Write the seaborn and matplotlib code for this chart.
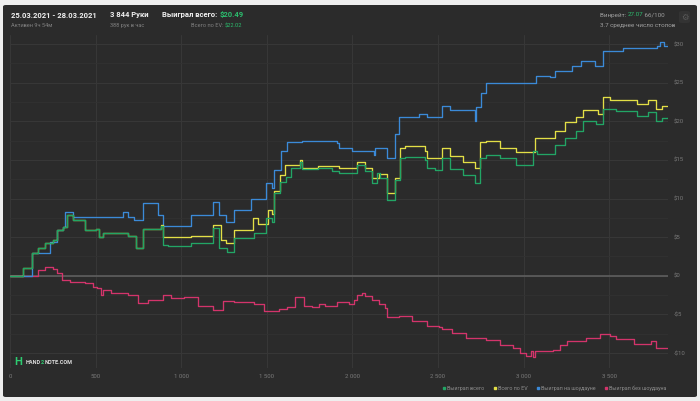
import matplotlib
matplotlib.use("Agg")
import matplotlib.pyplot as plt
import seaborn as sns
import pandas as pd
from matplotlib.lines import Line2D
from matplotlib.patches import FancyBboxPatch

# --- data (hands, dollars) ---
green_hands = [0, 76, 129, 165, 206, 253, 276, 311, 335, 370, 441, 500, 520, 546, 687, 734, 776,
               881, 893, 922, 1058, 1187, 1222, 1270, 1310, 1428, 1498, 1528, 1545, 1575, 1610,
               1640, 1692, 1704, 1800, 1880, 1921, 2027, 2074, 2115, 2145, 2162, 2203, 2250,
               2280, 2309, 2427, 2438, 2485, 2526, 2568, 2644, 2714, 2744, 2779, 2860, 2955,
               3055, 3080, 3184, 3243, 3308, 3349, 3425, 3467, 3540, 3660, 3730, 3772, 3810, 3844]
green_vals = [0, 1.0, 3.0, 3.6, 4.2, 4.6, 5.9, 6.3, 7.9, 7.2, 5.9, 6.0, 5.0, 5.6, 5.2, 3.6, 6.0,
              6.5, 4.0, 3.8, 4.2, 6.2, 3.6, 3.1, 4.9, 5.5, 7.5, 7.0, 10.7, 12.1, 12.8,
              13.9, 14.7, 13.8, 14.0, 13.5, 13.3, 14.3, 13.6, 12.0, 13.3, 12.6, 9.8, 12.4,
              15.2, 15.4, 15.0, 14.0, 13.7, 15.2, 13.8, 13.0, 12.0, 15.2, 15.6, 15.3, 14.4,
              16.2, 15.7, 16.9, 17.9, 18.8, 20.1, 19.7, 21.6, 21.3, 20.7, 21.2, 20.1, 20.4, 20.49]

ev_hands = [0, 76, 129, 165, 206, 253, 276, 311, 335, 370, 441, 500, 520, 546, 687, 734, 776,
            881, 893, 1058, 1187, 1234, 1263, 1310, 1422, 1451, 1510, 1528, 1545, 1575, 1604,
            1692, 1704, 1800, 1921, 2027, 2074, 2115, 2156, 2203, 2250, 2280, 2309, 2427,
            2438, 2526, 2573, 2644, 2714, 2744, 2779, 2861, 2955, 3067, 3184, 3243, 3308,
            3349, 3437, 3467, 3508, 3660, 3730, 3772, 3810, 3844]
ev_vals = [0, 1.0, 3.0, 3.6, 4.2, 4.6, 5.9, 6.3, 7.9, 7.2, 5.9, 6.0, 5.0, 5.6, 5.2, 3.6, 6.0,
           6.6, 5.0, 5.2, 6.6, 4.6, 4.3, 5.9, 7.5, 6.7, 8.5, 8.0, 11.0, 13.0, 14.3,
           15.0, 14.0, 14.2, 14.0, 14.7, 14.0, 12.6, 13.2, 10.7, 12.6, 16.5, 16.8, 16.2,
           15.3, 16.5, 15.5, 14.7, 13.9, 17.3, 17.5, 16.5, 16.0, 17.8, 18.8, 19.9, 20.5,
           21.4, 21.0, 23.1, 22.7, 22.3, 22.8, 21.6, 22.0, 22.02]

sd_hands = [0, 129, 235, 276, 311, 320, 370, 660, 690, 723, 776, 864, 893, 1058, 1187, 1222,
            1263, 1310, 1410, 1498, 1528, 1545, 1586, 1616, 1704, 1910, 1921, 1998, 2127,
            2133, 2203, 2250, 2274, 2391, 2438, 2526, 2568, 2714, 2720, 2750, 2779, 3073,
            3155, 3184, 3284, 3337, 3420, 3467, 3584, 3778, 3800, 3820, 3844]
sd_vals = [0, 3.0, 4.4, 5.9, 6.3, 8.3, 7.6, 8.2, 7.6, 7.2, 9.4, 7.9, 6.4, 7.9, 9.5, 7.9,
           7.0, 8.5, 10.0, 12.0, 11.4, 13.7, 16.2, 17.3, 17.5, 17.2, 16.6, 16.2, 15.6,
           16.5, 15.2, 18.4, 20.5, 21.0, 20.5, 22.0, 21.4, 20.1, 21.8, 23.6, 24.9, 25.9,
           25.7, 26.5, 27.2, 27.8, 27.2, 29.1, 29.5, 29.8, 30.2, 29.7, 29.8]

nsd_hands = [0, 129, 165, 206, 253, 276, 306, 352, 441, 482, 511, 529, 546, 588, 687, 746,
             805, 893, 940, 1016, 1099, 1187, 1246, 1310, 1428, 1481, 1569, 1616, 1663, 1716,
             1763, 1804, 1839, 1910, 1980, 2009, 2027, 2056, 2074, 2115, 2156, 2192, 2203,
             2274, 2350, 2438, 2509, 2526, 2585, 2662, 2779, 2861, 2938, 2979, 3014, 3044,
             3055, 3067, 3173, 3214, 3255, 3367, 3449, 3508, 3543, 3643, 3743, 3772, 3844]
nsd_vals = [0, 0.0, 0.8, 1.1, 0.9, 0.4, -0.5, -0.8, -1.0, -1.4, -1.6, -2.5, -1.9, -2.2, -2.5, -3.5,
            -3.2, -2.5, -2.9, -2.8, -3.9, -4.4, -3.3, -3.4, -3.6, -4.5, -4.3, -4.0, -2.8, -3.9,
            -4.0, -3.6, -3.9, -3.4, -3.6, -3.2, -2.5, -2.2, -2.6, -3.1, -3.7, -4.2, -5.4,
            -5.2, -5.9, -6.5, -6.6, -6.9, -7.4, -8.1, -8.3, -9.0, -9.3, -10.0, -10.4, -9.8,
            -10.5, -9.8, -9.6, -9.0, -8.5, -8.0, -7.5, -7.8, -8.2, -8.8, -8.4, -9.3, -9.3]

series_names = ["Выиграл всего", "Всего по EV", "Выиграл на шоудауне", "Выиграл без шоудауна"]
series_colors = ["#22a565", "#e3df46", "#3b8ad8", "#d3346b"]

x_ticks = [0, 500, 1000, 1500, 2000, 2500, 3000, 3500]
x_tick_labels = ["0", "500", "1 000", "1 500", "2 000", "2 500", "3 000", "3 500"]
y_ticks = [-10, -5, 0, 5, 10, 15, 20, 25, 30]
y_tick_labels = ["-$10", "-$5", "$0", "$5", "$10", "$15", "$20", "$25", "$30"]

sns.set_style("dark")
plt.rcParams["font.family"] = ["Roboto", "DejaVu Sans"]

W, H = 700, 401
fig = plt.figure(figsize=(7, 4.01), dpi=100, facecolor="#eeeeee")

# dark panel
panel = FancyBboxPatch((3 / W, 1 - 397 / H), 694 / W, 392 / H,
                       boxstyle="round,pad=0,rounding_size=0.004",
                       transform=fig.transFigure, facecolor="#2b2b2b", edgecolor="none", zorder=0)
fig.add_artist(panel)

ax = fig.add_axes([10 / W, 1 - 368 / H, 658 / W, 333 / H])
ax.set_facecolor("#2b2b2b")

ax.set_xlim(0, 3844)
ax.set_ylim(-11.94, 31.17)
ax.set_xticks(x_ticks)
ax.set_xticklabels(x_tick_labels)
ax.set_yticks(y_ticks)
ax.set_yticklabels(y_tick_labels)
ax.set_yticks([-7.5, -2.5, 2.5, 7.5, 12.5, 17.5, 22.5, 27.5], minor=True)
ax.yaxis.tick_right()
ax.tick_params(axis="both", which="both", length=0, colors="#7a7a7a", labelsize=4.3)
ax.tick_params(axis="x", pad=4)
ax.tick_params(axis="y", pad=4)
ax.grid(True, which="major", color="#383838", lw=0.7)
ax.grid(True, which="minor", axis="y", color="#323232", lw=0.6)
for s in ax.spines.values():
    s.set_visible(False)
ax.axhline(0, color="#5e5e5e", lw=1.2, zorder=1)

# draw series: red, blue, yellow, green (green on top)
data = [(nsd_hands, nsd_vals, 3), (sd_hands, sd_vals, 2), (ev_hands, ev_vals, 1), (green_hands, green_vals, 0)]
for hands, vals, i in data:
    df = pd.DataFrame({"hands": hands, "value": vals})
    sns.lineplot(data=df, x="hands", y="value", ax=ax, color=series_colors[i], lw=0.95,
                 drawstyle="steps-post", estimator=None, legend=False, zorder=3 + (3 - i))
ax.set_xlabel("")
ax.set_ylabel("")

# legend
handles = [Line2D([], [], ls="none", marker="s", markersize=1.8, color=c) for c in series_colors]
fig.legend(handles, series_names, loc="center right", bbox_to_anchor=(669 / W, 1 - 388 / H),
           ncol=4, frameon=False, fontsize=3.9, labelcolor="#8e8e8e", handletextpad=0.2,
           columnspacing=1.5, handlelength=0.8, borderaxespad=0)

# header text helper: chain coloured pieces
renderer = fig.canvas.get_renderer()


def chain(x, y, pieces, size, weight="normal"):
    for txt, col in pieces:
        t = fig.text(x / W, 1 - y / H, txt, color=col, fontsize=size, weight=weight, va="center")
        bb = t.get_window_extent(renderer=renderer)
        x += bb.width


chain(11, 15, [("25.03.2021 - 28.03.2021", "#f0f0f0")], 5.5, "bold")
chain(11, 25.5, [("Активен 9ч 54м", "#808080")], 4.1)
chain(110, 15, [("3 844 Руки", "#f0f0f0")], 5.5, "bold")
chain(110, 25.5, [("388 рук в час", "#808080")], 4.1)
chain(162, 15, [("Выиграл всего: ", "#f0f0f0"), ("$20.49", "#2bbd6e")], 5.5, "bold")
t = fig.text(242 / W, 1 - 25.5 / H, "$22.02", color="#2bbd6e", fontsize=4.1, va="center", ha="right")
bb = t.get_window_extent(renderer=renderer)
fig.text((242 - bb.width - 1) / W, 1 - 25.5 / H, "Всего по EV:", color="#808080", fontsize=4.1,
         va="center", ha="right")
chain(600, 15, [("Винрейт: ", "#a0a0a0"), ("27.07", "#2bbd6e"), (" 66/100", "#a0a0a0")], 4.5)
chain(600, 25.5, [("3.7 среднее число столов", "#a0a0a0")], 4.5)

# settings button
btn = FancyBboxPatch((679 / W, 1 - 23 / H), 11 / W, 12 / H, boxstyle="round,pad=0,rounding_size=0.004",
                     transform=fig.transFigure, facecolor="#333333", edgecolor="none", zorder=1)
fig.add_artist(btn)
fig.text(684.5 / W, 1 - 17 / H, "⚙", color="#5a5a5a", fontsize=6, ha="center", va="center",
         family=["DejaVu Sans"])

# logo
fig.text(18 / W, 1 - 362 / H, "H", color="#2ecc71", fontsize=8, weight="bold", ha="center", va="center")
chain(26, 362, [("HAND", "#e0e0e0"), ("2", "#2ecc71"), ("NOTE.COM", "#e0e0e0")], 4.0, "bold")

fig.savefig("out.png", dpi=100, facecolor=fig.get_facecolor())
